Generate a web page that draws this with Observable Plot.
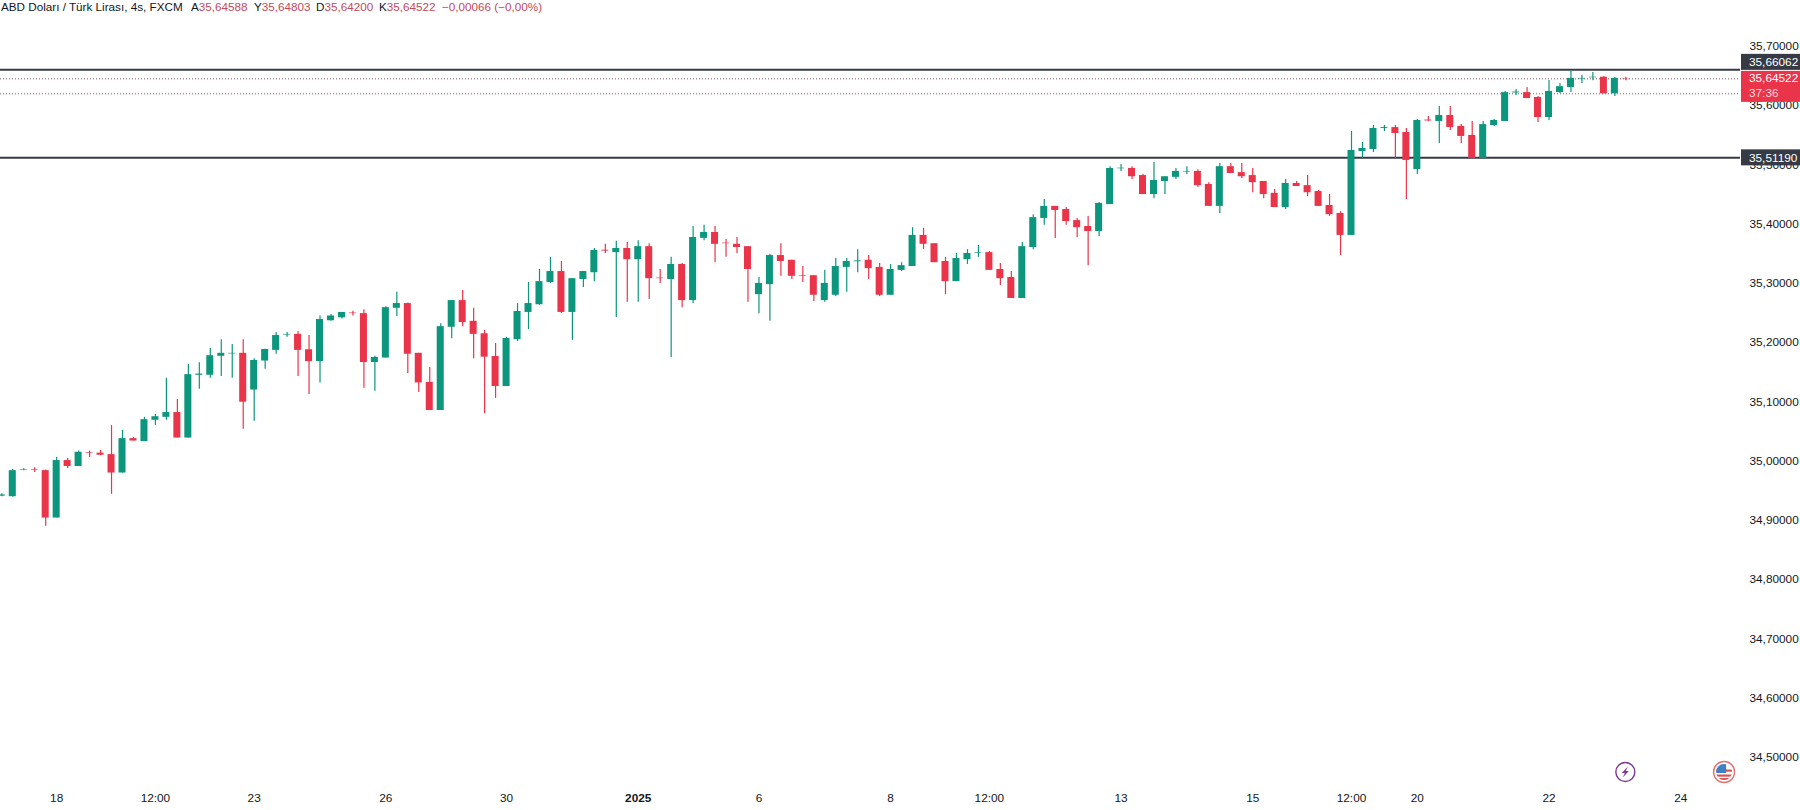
<!DOCTYPE html>
<html><head><meta charset="utf-8">
<script src="https://cdn.jsdelivr.net/npm/d3@7"></script>
<script src="https://cdn.jsdelivr.net/npm/@observablehq/plot@0.6"></script>
<style>
html,body{margin:0;padding:0;background:#fff;width:1800px;height:810px;overflow:hidden}
#hdr{position:absolute;left:0;top:-1px;width:700px;height:16px;font:11.7px/16px "Liberation Sans",sans-serif;color:#131722;white-space:nowrap}
#hdr span{position:absolute;top:0}
#hdr b{font-weight:400;color:#c4495b}
svg{display:block}
</style></head><body>
<div id="hdr"><span style="left:1px">ABD Doları / Türk Lirası, 4s, FXCM</span><span style="left:191px">A<b>35,64588</b></span><span style="left:254px">Y<b>35,64803</b></span><span style="left:316px">D<b>35,64200</b></span><span style="left:379px">K<b>35,64522</b></span><span style="left:442px"><b>−0,00066 (−0,00%)</b></span></div>
<script>
const opens=[34.941,34.940,34.985,34.986,34.984,34.904,35.001,34.991,35.014,35.0135,
35.011,34.980,35.038,35.033,35.069,35.074,35.082,35.039,35.145,35.145,
35.177,35.181,35.182,35.120,35.169,35.187,35.2125,35.214,35.188,35.168,
35.237,35.242,35.250,35.249,35.1665,35.174,35.258,35.266,35.182,35.133,
35.0855,35.226,35.271,35.236,35.215,35.1766,35.126,35.205,35.251,35.264,
35.3015,35.320,35.251,35.3066,35.318,35.356,35.352,35.359,35.340,35.362,
35.309,35.3066,35.332,35.271,35.376,35.386,35.368,35.366,35.362,35.281,
35.298,35.347,35.339,35.313,35.313,35.271,35.280,35.327,35.3365,35.339,
35.327,35.280,35.322,35.3285,35.381,35.367,35.337,35.303,35.340,35.351,
35.352,35.3235,35.310,35.2745,35.3606,35.4096,35.430,35.4247,35.406,35.396,
35.3876,35.433,35.4935,35.494,35.482,35.450,35.472,35.479,35.488,35.489,
35.467,35.430,35.497,35.487,35.482,35.472,35.452,35.428,35.4686,35.465,
35.455,35.4315,35.418,35.381,35.5226,35.526,35.5615,35.563,35.5547,35.492,
35.5757,35.5733,35.5834,35.565,35.5497,35.511,35.5665,35.5733,35.6215,35.622,
35.6138,35.580,35.622,35.6307,35.645,35.647,35.648,35.620,35.64588];
const highs=[34.945,34.986,34.987,34.989,34.985,35.006,35.0045,35.017,35.017,35.018,
35.060,35.052,35.040,35.074,35.079,35.140,35.104,35.163,35.166,35.190,
35.205,35.197,35.205,35.173,35.189,35.217,35.217,35.219,35.212,35.245,
35.2475,35.251,35.253,35.2555,35.177,35.2605,35.285,35.267,35.182,35.158,
35.232,35.271,35.288,35.258,35.2205,35.1986,35.209,35.266,35.3015,35.3235,
35.344,35.337,35.308,35.320,35.359,35.366,35.371,35.369,35.372,35.367,
35.3235,35.344,35.3336,35.396,35.398,35.396,35.374,35.3775,35.362,35.310,
35.349,35.367,35.339,35.3285,35.313,35.322,35.342,35.342,35.357,35.347,
35.3336,35.332,35.335,35.394,35.393,35.367,35.344,35.3505,35.357,35.364,
35.354,35.3336,35.320,35.369,35.416,35.4416,35.430,35.428,35.4096,35.413,
35.4366,35.497,35.5007,35.497,35.484,35.504,35.480,35.494,35.497,35.492,
35.470,35.5024,35.5024,35.5024,35.494,35.472,35.4585,35.4754,35.472,35.482,
35.457,35.450,35.421,35.5564,35.538,35.5665,35.5665,35.5665,35.5615,35.5767,
35.5817,35.5986,35.5986,35.568,35.5733,35.5733,35.5767,35.624,35.6273,35.6307,
35.6155,35.6425,35.6374,35.6594,35.651,35.656,35.6492,35.6475,35.64803];
const lows=[34.940,34.939,34.984,34.981,34.890,34.904,34.9876,34.991,35.006,35.009,
34.944,34.980,35.034,35.033,35.060,35.069,35.039,35.039,35.1215,35.140,
35.143,35.140,35.054,35.0675,35.155,35.1805,35.209,35.143,35.1125,35.132,
35.236,35.240,35.245,35.123,35.118,35.174,35.244,35.148,35.116,35.0855,
35.0855,35.2065,35.227,35.173,35.080,35.106,35.126,35.202,35.222,35.263,
35.300,35.249,35.204,35.293,35.303,35.3505,35.2425,35.268,35.268,35.273,
35.300,35.175,35.259,35.266,35.372,35.335,35.344,35.3505,35.268,35.249,
35.236,35.312,35.3066,35.3015,35.2695,35.268,35.278,35.285,35.318,35.3066,
35.278,35.280,35.320,35.3285,35.357,35.335,35.281,35.303,35.332,35.344,
35.322,35.2965,35.2745,35.2745,35.357,35.398,35.376,35.398,35.3775,35.330,
35.379,35.433,35.489,35.4754,35.450,35.443,35.450,35.4754,35.484,35.462,
35.430,35.418,35.4855,35.477,35.453,35.443,35.428,35.4247,35.4636,35.4467,
35.430,35.413,35.347,35.381,35.511,35.521,35.5564,35.511,35.4416,35.484,
35.5733,35.536,35.558,35.536,35.511,35.511,35.565,35.5733,35.617,35.612,
35.5716,35.575,35.6205,35.622,35.6374,35.642,35.620,35.6155,35.64200];
const closes=[34.943,34.984,34.986,34.985,34.904,35.001,34.991,35.015,35.013,35.010,
34.980,35.038,35.034,35.070,35.075,35.082,35.039,35.146,35.147,35.178,
35.182,35.182,35.0995,35.170,35.1885,35.212,35.2135,35.187,35.168,35.239,
35.245,35.251,35.249,35.1665,35.175,35.259,35.266,35.1805,35.132,35.0855,
35.227,35.271,35.234,35.214,35.1755,35.126,35.207,35.2526,35.266,35.303,
35.320,35.251,35.308,35.320,35.3555,35.3545,35.359,35.340,35.362,35.308,
35.308,35.332,35.271,35.3775,35.386,35.366,35.367,35.3606,35.3235,35.300,
35.347,35.337,35.312,35.312,35.280,35.300,35.3285,35.337,35.338,35.325,
35.280,35.3235,35.330,35.381,35.366,35.335,35.303,35.342,35.3505,35.352,
35.322,35.308,35.2745,35.362,35.411,35.430,35.423,35.4045,35.394,35.3876,
35.435,35.494,35.4945,35.480,35.450,35.4737,35.480,35.489,35.489,35.465,
35.430,35.497,35.4855,35.480,35.470,35.450,35.428,35.4686,35.4636,35.453,
35.430,35.416,35.381,35.5243,35.5277,35.5615,35.5630,35.553,35.5075,35.575,
35.5742,35.5834,35.563,35.548,35.511,35.568,35.575,35.622,35.6230,35.612,
35.580,35.624,35.632,35.646,35.646,35.648,35.620,35.646,35.64522];

const priceTicks=[34.5,34.6,34.7,34.8,34.9,35.0,35.1,35.2,35.3,35.4,35.5,35.6,35.7];
const timeTickIndex=[5,14,23,35,46,69,81,90,102,114,123,129,141,153];
const timeTickLabel=["18","12:00","23","26","30","6","8","12:00","13","15","12:00","20","22","24"];
const yearTickIndex=[58], yearTickLabel=["2025"];
const levels=[35.66062,35.51190];
const dottedLevels=[35.64522,35.62000];
const countdown="37:36", lastPrice=35.64522;
const lightningIndex=148, flagIndex=157;

const up="#0b967d", down="#ea344a", ink="#131722", tagDark="#363a45";
const comma=d=>d3.format(".5f")(d).replace(".",",");
const candles=opens.map((o,i)=>({i,o,h:highs[i],l:lows[i],c:closes[i]}));
const col=d=>d.c>=d.o?up:down;

function overlay(index,{x,y},values,{height}){
  const g=d3.create("svg:g").attr("font-family",'"Liberation Sans",sans-serif').attr("font-size",11.8).attr("text-anchor","start");
  const ly=y(lastPrice);
  const tag=(p,label)=>{
    let cy=y(p);
    // a level tag that would collide with the last-price tag sits directly above it
    if(Math.abs(cy-ly)<24) cy=ly-16.5;
    g.append("rect").attr("x",1741).attr("width",59).attr("y",cy-8).attr("height",16).attr("fill",tagDark);
    g.append("text").attr("x",1749).attr("y",cy+0.5).attr("dy","0.32em").attr("fill","#fff").text(label);
  };
  levels.forEach(p=>tag(p,comma(p)));
  g.append("rect").attr("x",1741).attr("width",59).attr("y",ly-7.5).attr("height",31).attr("fill",down);
  g.append("text").attr("x",1749).attr("y",ly).attr("dy","0.32em").attr("fill","#fff").text(comma(lastPrice));
  g.append("text").attr("x",1749).attr("y",ly+14.5).attr("dy","0.32em").attr("fill","#ffd5d9").text(countdown);
  const ey=height-38;
  const lx=x(lightningIndex);
  g.append("circle").attr("cx",lx).attr("cy",ey).attr("r",9.5).attr("fill","#fff").attr("stroke","#7b3a96").attr("stroke-width",1.4);
  g.append("path").attr("transform",`translate(${lx},${ey})`).attr("d","M2.5,-5.5L-3.5,1H-0.5L-2.5,5.5L3.5,-1H0.5Z").attr("fill","#7b3a96");
  const fx=x(flagIndex);
  const f=g.append("g").attr("transform",`translate(${fx},${ey})`);
  f.append("circle").attr("r",10.5).attr("fill","#fff").attr("stroke","#e0736f").attr("stroke-width",1.4);
  f.append("clipPath").attr("id","fc").append("circle").attr("r",8);
  const s=f.append("g").attr("clip-path","url(#fc)");
  s.append("rect").attr("x",-8).attr("y",-8).attr("width",16).attr("height",16).attr("fill","#fff");
  [-2.5,2.5,6].forEach(v=>s.append("rect").attr("x",-8).attr("y",v).attr("width",16).attr("height",2.2).attr("fill","#d9534f"));
  s.append("rect").attr("x",-8).attr("y",-8).attr("width",10).attr("height",9).attr("fill","#3f7fc4");
  return g.node();
}

const plot=Plot.plot({
  width:1800,height:810,marginLeft:0,marginRight:60,marginTop:0,marginBottom:50,
  style:{background:"#fff",fontFamily:'"Liberation Sans",sans-serif',fontSize:"11.8px",color:ink},
  x:{domain:[-0.1185,158.45],range:[0,1740]},
  y:{domain:[34.4948,35.77747],range:[760,0]},
  marks:[
    Plot.ruleY(dottedLevels,{stroke:"#8c5a62",strokeWidth:1,strokeDasharray:"1,2"}),
    Plot.ruleY(levels,{stroke:tagDark,strokeWidth:2}),
    Plot.ruleX(candles,{x:"i",y1:"l",y2:"h",stroke:col,strokeWidth:1.2}),
    Plot.rect(candles,{x1:d=>d.i-0.32,x2:d=>d.i+0.32,y1:d=>Math.min(d.o,d.c),y2:d=>Math.max(d.o,d.c),fill:col}),
    Plot.axisY({anchor:"right",ticks:priceTicks,tickFormat:comma,tickSize:0,tickPadding:9,label:null,fill:ink,textAnchor:"start"}),
    Plot.axisX({ticks:timeTickIndex,tickFormat:d=>timeTickLabel[timeTickIndex.indexOf(d)],tickSize:0,tickPadding:33,label:null,fill:ink}),
    Plot.axisX({ticks:yearTickIndex,tickFormat:d=>yearTickLabel[yearTickIndex.indexOf(d)],tickSize:0,tickPadding:33,label:null,fill:ink,fontWeight:"bold"}),
    overlay
  ]
});
document.body.appendChild(plot);
</script>
</body></html>
